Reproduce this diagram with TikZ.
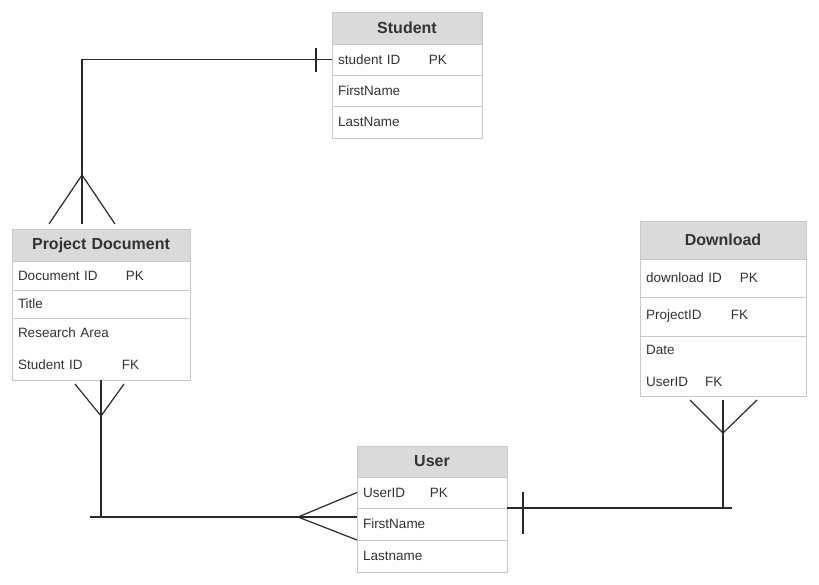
\documentclass[tikz,border=0pt]{standalone}
\usepackage{fontspec}
\setmainfont{Liberation Sans}
\usetikzlibrary{positioning}
\definecolor{tblline}{HTML}{C8C8C8}
\definecolor{headfill}{HTML}{DADADA}
\definecolor{txtgray}{HTML}{333333}
\definecolor{linkline}{HTML}{2A2A2A}

\begin{document}
\begin{tikzpicture}[x=1pt, y=-1pt, node distance=0pt]
    \tikzset{
        tblhead/.style = {rectangle, draw=tblline, fill=headfill, line width=0.8pt, text width=#1, align=center, outer sep=0pt,
                          inner xsep=0pt, inner ysep=0pt, font=\bfseries\fontsize{16}{19}\selectfont, text=txtgray},
        tblrow/.style = {rectangle, draw=tblline, fill=white, line width=0.8pt, text width=#1, align=left, outer sep=0pt,
                         inner xsep=6pt, inner ysep=0pt, font=\fontsize{13.5}{32}\selectfont, text=txtgray},
        link/.style = {line width=1.2pt, draw=linkline}
    }
    \useasboundingbox (0,0) rectangle (819,584);

    % Student
    \node (stuhead) [tblhead=150pt, minimum height=32pt, anchor=north west] at (332,12) {Student};
    \node (stuid) [tblrow=138pt, minimum height=31pt, below=of stuhead] {\makebox[91pt][l]{student ID}PK};
    \node (stufirst) [tblrow=138pt, minimum height=31pt, below=of stuid] {FirstName};
    \node (stulast) [tblrow=138pt, minimum height=32pt, below=of stufirst] {LastName};

    % Project Document
    \node (pdhead) [tblhead=178pt, minimum height=32pt, anchor=north west] at (12,229) {Project Document};
    \node (pdid) [tblrow=166pt, minimum height=29pt, below=of pdhead] {\makebox[108pt][l]{Document ID}PK};
    \node (pdtitle) [tblrow=166pt, minimum height=28pt, below=of pdid] {Title};
    \node (pdarea) [tblrow=166pt, minimum height=62pt, below=of pdtitle] {Research Area\\\makebox[104pt][l]{Student ID}FK};

    % Download
    \node (dlhead) [tblhead=166pt, minimum height=38pt, anchor=north west] at (640,221) {Download};
    \node (dlid) [tblrow=154pt, minimum height=38pt, below=of dlhead] {\makebox[94pt][l]{download ID}PK};
    \node (dlproj) [tblrow=154pt, minimum height=39pt, below=of dlid] {\makebox[85pt][l]{ProjectID}FK};
    \node (dldate) [tblrow=154pt, minimum height=60pt, below=of dlproj] {Date\\\makebox[59pt][l]{UserID}FK};

    % User
    \node (usrhead) [tblhead=150pt, minimum height=31pt, anchor=north west] at (357,446) {User};
    \node (usrid) [tblrow=138pt, minimum height=31pt, below=of usrhead] {\makebox[67pt][l]{UserID}PK};
    \node (usrfirst) [tblrow=138pt, minimum height=32pt, below=of usrid] {FirstName};
    \node (usrlast) [tblrow=138pt, minimum height=32pt, below=of usrfirst] {Lastname};

    % Student -- Project Document
    \coordinate (pdtop) at (82,224);
    \coordinate (pdapex) at (82,175);
    \coordinate (pdleft) at (49,224);
    \coordinate (pdright) at (115,224);
    \draw [link] (stuid.west) -| (pdtop);
    \draw [link] (pdleft) -- (pdapex) -- (pdright);
    \draw [link] ([xshift=-16pt]stuid.west) +(0,-12) -- +(0,12);

    % Project Document -- User
    \coordinate (pdapex2) at (101,416);
    \coordinate (pdbl) at (75,384);
    \coordinate (pdbr) at (124,384);
    \coordinate (linkend) at (90,517);
    \coordinate (usrapex) at (298,517);
    \coordinate (usrjoin) at (357,517);
    \draw [link] (pdarea.south) -- (pdarea.south |- linkend);
    \draw [link] (pdbl) -- (pdapex2) -- (pdbr);
    \draw [link] (linkend) -- (usrjoin);
    \draw [link] (usrid.west) -- (usrapex) -- (usrfirst.south west);

    % User -- Download
    \coordinate (dlend) at (732,508);
    \coordinate (dltop) at (723,400);
    \coordinate (dlapex) at (723,433);
    \coordinate (dlbl) at (690,400);
    \coordinate (dlbr) at (757,400);
    \draw [link] (usrid.south east) -- (usrid.south east -| dlend);
    \draw [link] ([xshift=16pt]usrid.south east) +(0,-16) -- +(0,26);
    \draw [link] (dltop) -- (dltop |- usrid.south east);
    \draw [link] (dlbl) -- (dlapex) -- (dlbr);
\end{tikzpicture}
\end{document}
